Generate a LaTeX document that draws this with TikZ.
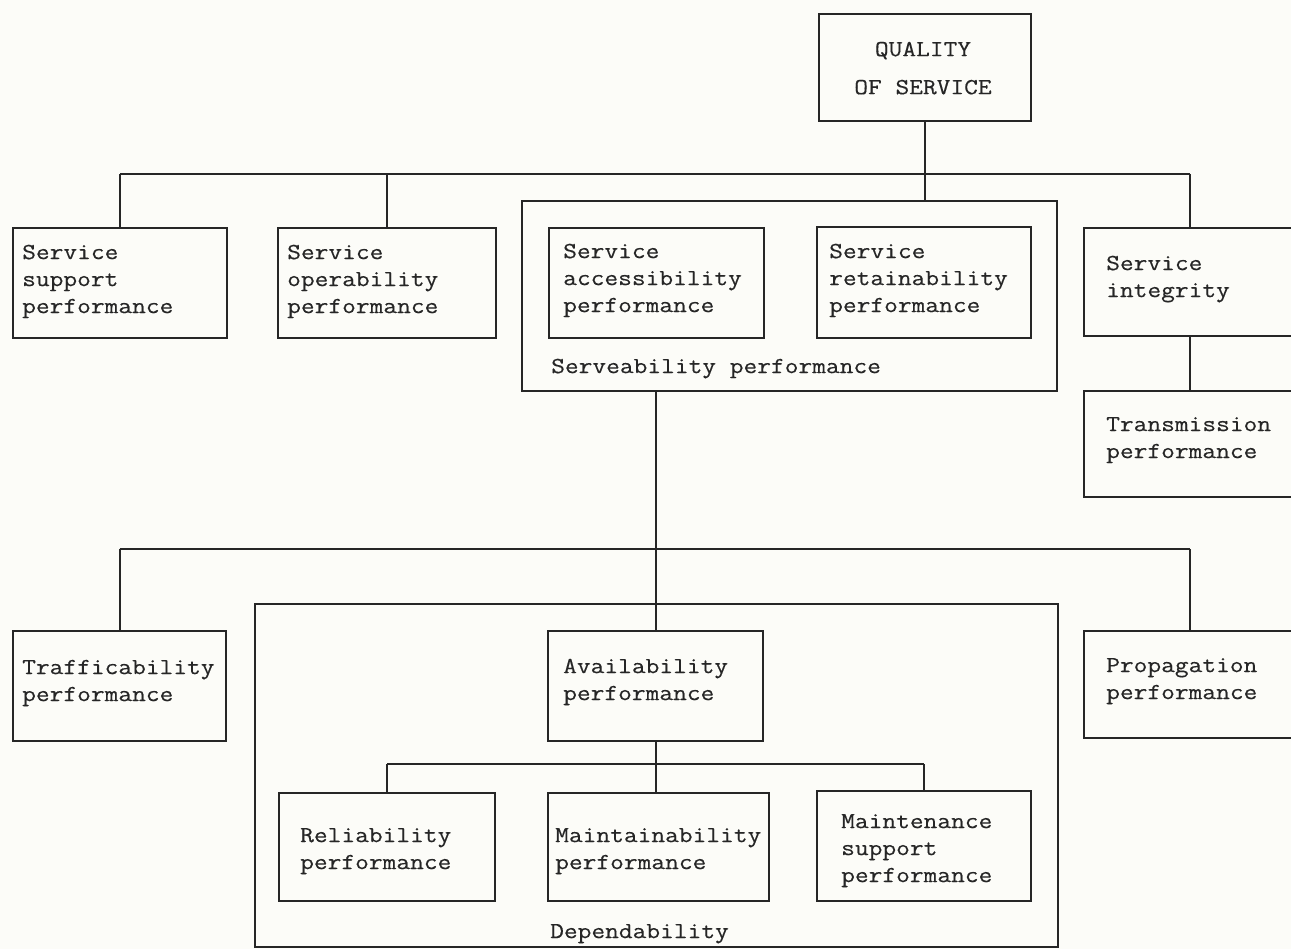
\documentclass[tikz,border=0pt]{standalone}
\usepackage{fontspec}
\newfontfamily\twfont[FakeStretch=1.16,FakeBold=0.35]{Latin Modern Mono}
\definecolor{ink}{HTML}{262626}
\definecolor{paper}{HTML}{FCFCF8}
\tikzset{
  box/.style={draw=ink, line width=2pt, anchor=north west, inner sep=0pt},
  txt/.style={font=\twfont\fontsize{23}{27}\selectfont, text=ink, inner sep=0pt, align=left, anchor=north west},
  wire/.style={draw=ink, line width=2pt},
}
\begin{document}
\begin{tikzpicture}[x=1pt,y=-1pt]
\useasboundingbox (0,0) rectangle (1291,949);
\fill[paper] (0,0) rectangle (1291,949);
\clip (0,0) rectangle (1291,949);
% top
\node[box, minimum width=212pt, minimum height=107pt] (qos) at (818,13) {};
\node[txt, align=center, anchor=north, font=\twfont\fontsize{23}{38}\selectfont] (qost) at (923,29.4) {\strut QUALITY\\OF SERVICE};
% first level
\node[box, minimum width=214pt, minimum height=110pt] (ssp) at (12,227) {};
\node[txt] (sspt) at (22,240) {\strut Service\\support\\performance};
\node[box, minimum width=218pt, minimum height=110pt] (sop) at (277,227) {};
\node[txt] (sopt) at (287,240) {\strut Service\\operability\\performance};
\node[box, minimum width=535pt, minimum height=190pt] (serv) at (521,200) {};
\node[txt] (servt) at (551,354) {\strut Serveability performance};
\node[box, minimum width=215pt, minimum height=110pt] (acc) at (548,227) {};
\node[txt] (acct) at (563,239) {\strut Service\\accessibility\\performance};
\node[box, minimum width=214pt, minimum height=111pt] (ret) at (816,226) {};
\node[txt] (rett) at (829,239) {\strut Service\\retainability\\performance};
\node[box, minimum width=212pt, minimum height=108pt] (int) at (1083,227) {};
\node[txt] (intt) at (1106,251) {\strut Service\\integrity};
\node[box, minimum width=212pt, minimum height=106pt] (trans) at (1083,390) {};
\node[txt] (transt) at (1106,412) {\strut Transmission\\performance};
% second level
\node[box, minimum width=213pt, minimum height=110pt] (traf) at (12,630) {};
\node[txt] (traft) at (22,655) {\strut Trafficability\\performance};
\node[box, minimum width=803pt, minimum height=343pt] (dep) at (254,603) {};
\node[txt] (dept) at (550,919) {\strut Dependability};
\node[box, minimum width=215pt, minimum height=110pt] (avail) at (547,630) {};
\node[txt] (availt) at (563,654) {\strut Availability\\performance};
\node[box, minimum width=212pt, minimum height=107pt] (prop) at (1083,630) {};
\node[txt] (propt) at (1106,653) {\strut Propagation\\performance};
% third level
\node[box, minimum width=216pt, minimum height=108pt] (rel) at (278,792) {};
\node[txt] (relt) at (300,823) {\strut Reliability\\performance};
\node[box, minimum width=221pt, minimum height=108pt] (mnt) at (547,792) {};
\node[txt] (mntt) at (555,823) {\strut Maintainability\\performance};
\node[box, minimum width=214pt, minimum height=110pt] (ms) at (816,790) {};
\node[txt] (mst) at (841,809) {\strut Maintenance\\support\\performance};
% connectors
\coordinate (b1) at (0,174);
\coordinate (b2) at (0,549);
\coordinate (b3) at (0,764);
\draw[wire] (qos.south) -- (qos.south |- serv.north);
\draw[wire] (ssp.north |- b1) -- (int.north |- b1);
\draw[wire] (ssp.north |- b1) -- (ssp.north);
\draw[wire] (sop.north |- b1) -- (sop.north);
\draw[wire] (int.north |- b1) -- (int.north);
\draw[wire] (int.south) -- (trans.north);
\draw[wire] (avail.north |- serv.south) -- (avail.north);
\draw[wire] (traf.north |- b2) -- (prop.north |- b2);
\draw[wire] (traf.north |- b2) -- (traf.north);
\draw[wire] (prop.north |- b2) -- (prop.north);
\draw[wire] (avail.south) -- (avail.south |- b3);
\draw[wire] (rel.north |- b3) -- (ms.north |- b3);
\draw[wire] (rel.north |- b3) -- (rel.north);
\draw[wire] (avail.south |- b3) -- (avail.south |- mnt.north);
\draw[wire] (ms.north |- b3) -- (ms.north);
\end{tikzpicture}
\end{document}
